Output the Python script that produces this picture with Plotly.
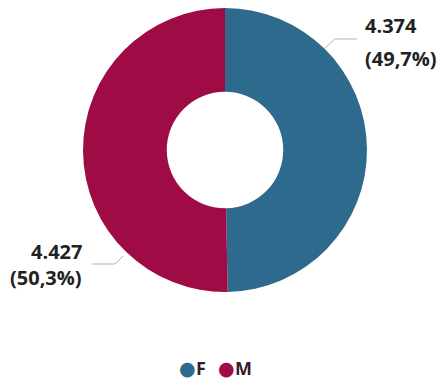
import plotly.graph_objects as go

# Data
categories = ["F", "M"]
values = [4374, 4427]
colors = ["#2E6A8E", "#9E0B45"]

W, H = 446, 380
total = sum(values)


def px(x, y):
    """Pixel position -> paper coordinates."""
    return x / W, 1 - y / H


def fmt_num(v):
    return f"{v:,}".replace(",", ".")


def fmt_pct(v):
    return "(" + f"{v / total * 100:.1f}".replace(".", ",") + "%)"


fig = go.Figure()

# Donut geometry: centre (225,150), outer radius 142 px
cx, cy, r = 225, 150, 142
fig.add_trace(go.Pie(
    labels=categories,
    values=values,
    marker=dict(colors=colors, line=dict(width=0)),
    hole=0.41,
    sort=False,
    direction="clockwise",
    rotation=0,
    textinfo="none",
    hoverinfo="label+value+percent",
    showlegend=False,
    domain=dict(x=[(cx - r) / W, (cx + r) / W], y=[1 - (cy + r) / H, 1 - (cy - r) / H]),
))

line_style = dict(color="#b5b5b5", width=1)
shapes = []
# Leader lines: F (upper right) and M (lower left)
for (x0, y0), (x1, y1) in [((325, 48), (335, 39)), ((335, 39), (357, 39)),
                           ((123, 256), (115, 264)), ((115, 264), (92, 264))]:
    a0, b0 = px(x0, y0)
    a1, b1 = px(x1, y1)
    shapes.append(dict(type="line", xref="paper", yref="paper",
                       x0=a0, y0=b0, x1=a1, y1=b1, line=line_style))

label_font = dict(family="Open Sans, sans-serif", size=20, color="#222222")
annotations = []
# F label (right side, left aligned)
for text, y in [(f"<b>{fmt_num(values[0])}</b>", 26), (f"<b>{fmt_pct(values[0])}</b>", 58)]:
    ax, ay = px(363, y)
    annotations.append(dict(text=text, x=ax, y=ay, xref="paper", yref="paper",
                            xanchor="left", yanchor="middle", showarrow=False, font=label_font))
# M label (left side, right aligned)
for text, y in [(f"<b>{fmt_num(values[1])}</b>", 252), (f"<b>{fmt_pct(values[1])}</b>", 277)]:
    ax, ay = px(84, y)
    annotations.append(dict(text=text, x=ax, y=ay, xref="paper", yref="paper",
                            xanchor="right", yanchor="middle", showarrow=False, font=label_font))

# Legend row: coloured dot followed by the category name
legend_y = 368
for cat, c, dot_x in zip(categories, colors, [187, 226]):
    dx, dy = px(dot_x, legend_y)
    annotations.append(dict(text="●", x=dx, y=dy, xref="paper", yref="paper",
                            xanchor="center", yanchor="middle", showarrow=False,
                            font=dict(family="DejaVu Sans, sans-serif", size=19, color=c)))
    tx, ty = px(dot_x + 7, legend_y)
    annotations.append(dict(text=f"<b>{cat}</b>", x=tx, y=ty, xref="paper", yref="paper",
                            xanchor="left", yanchor="middle", showarrow=False,
                            font=dict(family="Open Sans, sans-serif", size=18, color="#3a1a2c")))

fig.update_layout(
    width=W, height=H,
    margin=dict(l=0, r=0, t=0, b=0),
    paper_bgcolor="white",
    plot_bgcolor="white",
    shapes=shapes,
    annotations=annotations,
)

fig.write_html("out.html")
